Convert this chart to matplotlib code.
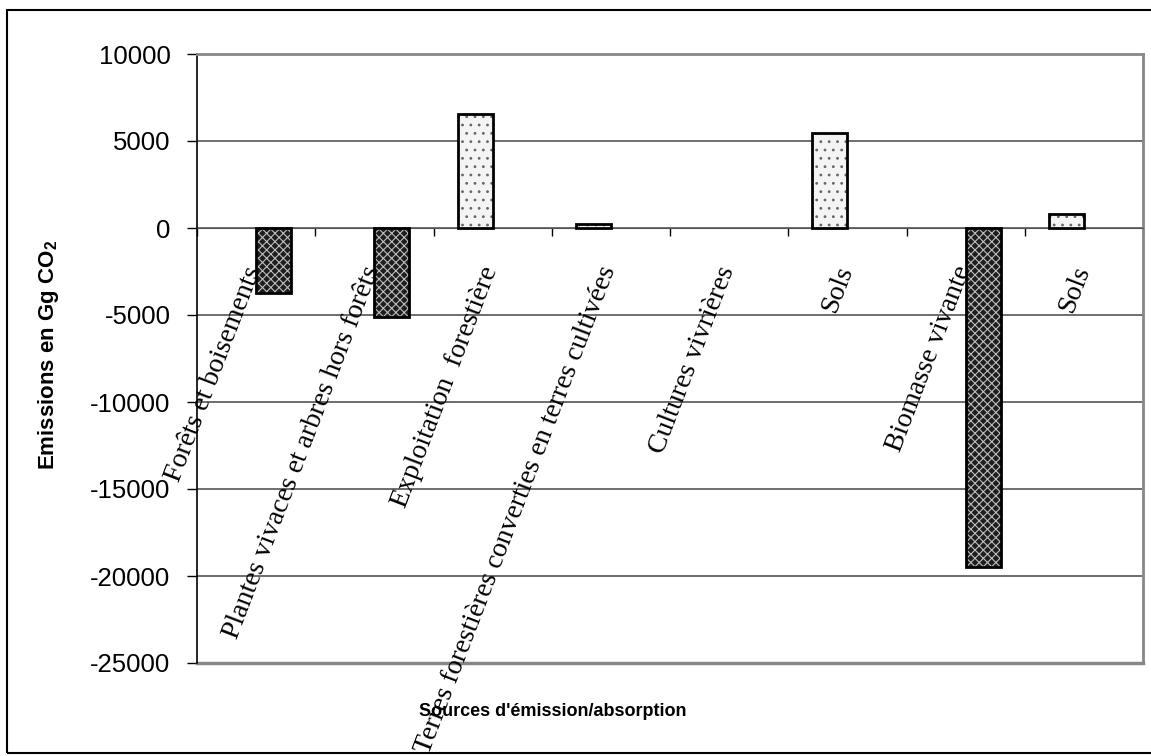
import numpy as np
import matplotlib.pyplot as plt
from matplotlib.patches import Rectangle

plt.rcParams['mathtext.fontset'] = 'custom'
plt.rcParams['mathtext.bf'] = 'Liberation Sans:bold'
plt.rcParams['mathtext.rm'] = 'Liberation Sans'
plt.rcParams['hatch.linewidth'] = 0.8

categories = ["Forêts et boisements",
              "Plantes vivaces et arbres hors forêts",
              "Exploitation  forestière",
              "Terres forestières converties en terres cultivées",
              "Cultures vivrières",
              "Sols",
              "Biomasse vivante",
              "Sols"]
emissions = [0, 0, 6550, 230, 0, 5450, 0, 800]
absorptions = [-3750, -5100, 0, 0, 0, 0, -19500, 0]
yticks = [10000, 5000, 0, -5000, -10000, -15000, -20000, -25000]

fig = plt.figure(figsize=(11.51, 7.56), dpi=100)
ax = fig.add_axes([197/1151, 1 - 663/756, (1143 - 197)/1151, (663 - 54)/756])

x = np.arange(len(categories))
w = 0.296

# emissions : barres claires pointillées (à gauche)
xe = [xi - w/2 for xi, v in zip(x, emissions) if v != 0]
ve = [v for v in emissions if v != 0]
ax.bar(xe, ve, w, color='#f4f4f4', edgecolor='#666666', hatch='..', linewidth=0, zorder=3)
ax.bar(xe, ve, w, fill=False, edgecolor='black', linewidth=2, zorder=4)

# absorptions : barres sombres quadrillées (à droite)
xa = [xi + w/2 for xi, v in zip(x, absorptions) if v != 0]
va = [v for v in absorptions if v != 0]
ax.bar(xa, va, w, color='#1e1e1e', edgecolor='#bdbdbd', hatch='xxxx', linewidth=0, zorder=3)
ax.bar(xa, va, w, fill=False, edgecolor='black', linewidth=2, zorder=4)

ax.set_xlim(-0.5, len(categories) - 0.5)
ax.set_ylim(-25000, 10000)
ax.set_yticks(yticks)
ax.set_yticklabels([str(t) for t in yticks], fontsize=18.5, family='Liberation Sans')
ax.yaxis.grid(True, color='#555555', linewidth=1.2, zorder=1)
ax.tick_params(axis='y', direction='out', length=7, width=1, pad=12)

# axe horizontal à zéro avec graduations entre catégories
ax.spines['bottom'].set_position(('data', 0))
ax.spines['bottom'].set_color('#555555')
ax.set_xticks(np.arange(len(categories) + 1) - 0.5)
ax.set_xticklabels([])
ax.tick_params(axis='x', direction='out', length=6, width=1, color='black')
for s in ['top', 'right']:
    ax.spines[s].set_color('#888888')
    ax.spines[s].set_linewidth(2)
ax.spines['left'].set_linewidth(1.2)
ax.axhline(-25000, color='#888888', linewidth=2.5, zorder=2, clip_on=False)

for xi, lab in zip(x, categories):
    ax.text(xi - 0.01, -2250, lab, rotation=69, rotation_mode='anchor',
            ha='right', va='center', fontsize=20, family='Liberation Serif', zorder=5)

fig.text(49/1151, 1 - 355/756, r'Emissions en Gg CO$_\mathbf{2}$', rotation=90,
         ha='center', va='center', fontsize=16, fontweight='bold', family='Liberation Sans')
fig.text(553/1151, 1 - 712/756, "Sources d'émission/absorption",
         ha='center', va='center', fontsize=13, fontweight='bold', family='Liberation Sans')

fig.patches.append(Rectangle((7/1151, 3/756), 1.1, 1 - 13/756, transform=fig.transFigure,
                             fill=False, edgecolor='black', linewidth=1.5))

fig.savefig("out.png", dpi=100)
